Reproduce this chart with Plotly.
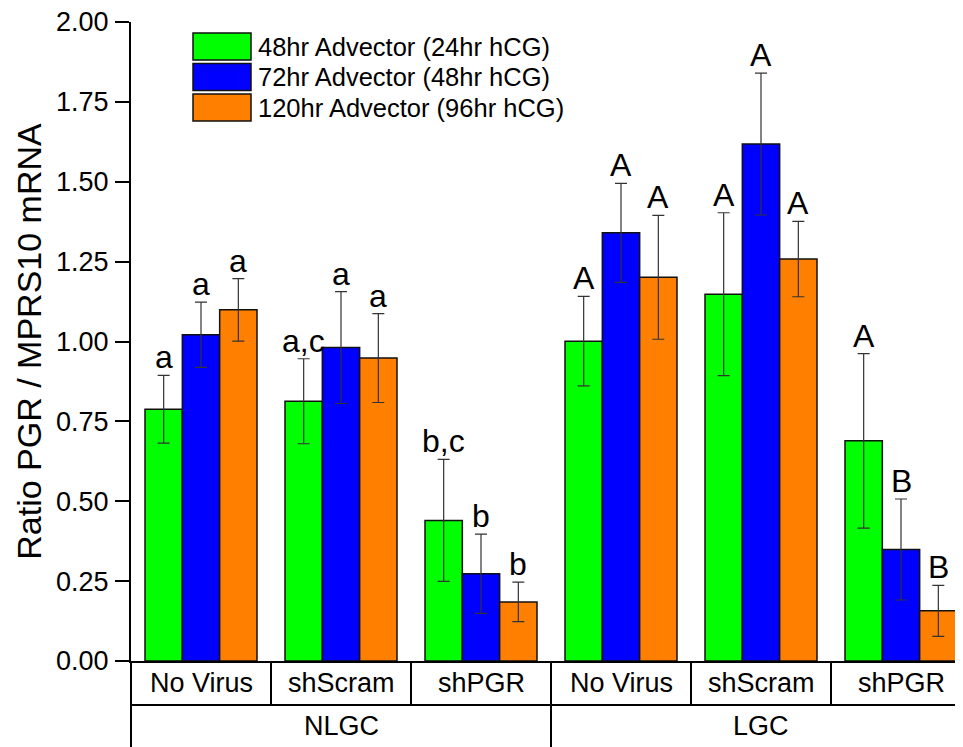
import plotly.graph_objects as go

# ---- data ----
groups = ["NLGC", "LGC"]
subgroups = ["No Virus", "shScram", "shPGR"]
series_names = ["48hr Advector (24hr hCG)", "72hr Advector (48hr hCG)", "120hr Advector (96hr hCG)"]
series_colors = ["#00FF00", "#0000FF", "#FF8000"]

green_vals = [0.788, 0.813, 0.440, 1.001, 1.148, 0.689]
blue_vals = [1.021, 0.981, 0.273, 1.340, 1.618, 0.349]
orange_vals = [1.099, 0.948, 0.185, 1.201, 1.258, 0.157]

green_err = [0.106, 0.133, 0.191, 0.140, 0.255, 0.273]
blue_err = [0.102, 0.175, 0.124, 0.155, 0.222, 0.158]
orange_err = [0.098, 0.139, 0.062, 0.194, 0.118, 0.080]

green_letters = ["a", "a,c", "b,c", "A", "A", "A"]
blue_letters = ["a", "a", "b", "A", "A", "B"]
orange_letters = ["a", "a", "b", "A", "A", "B"]

y_ticks = [0.00, 0.25, 0.50, 0.75, 1.00, 1.25, 1.50, 1.75, 2.00]
y_title = "Ratio PGR / MPRS10 mRNA"

# ---- build ----
FONT = "Liberation Sans, Arial, sans-serif"
OFF = 8  # default page body margin
W, H = 963 - OFF, 747 - OFF
ML, MR, MT, MB = 131 - OFF, 0, 22 - OFF, 86
plot_w = W - ML - MR
plot_h = H - MT - MB
group_px = 140.0

cats = [f"{g} · {s}" for g in groups for s in subgroups]
values = [green_vals, blue_vals, orange_vals]
errors = [green_err, blue_err, orange_err]
letters = [green_letters, blue_letters, orange_letters]

fig = go.Figure()
for k in range(3):
    fig.add_trace(go.Bar(
        x=cats, y=values[k], name=series_names[k],
        marker=dict(color=series_colors[k], line=dict(color="#111111", width=1.5)),
        error_y=dict(type="data", array=errors[k], visible=True,
                     color="#333333", thickness=1.2, width=6),
        showlegend=False,
    ))

annotations = []
bargap = 0.2
bw = (1 - bargap) / 3
for k in range(3):
    for i in range(len(cats)):
        annotations.append(dict(
            x=i + (k - 1) * bw, y=values[k][i] + errors[k][i], xref="x", yref="y",
            text=letters[k][i], showarrow=False, yanchor="bottom", xanchor="center",
            yshift=-2, font=dict(family=FONT, size=32, color="black"),
        ))

def py2paper(py):
    # py in page pixels
    return (H - MB - (py - OFF)) / plot_h

def px2paper(px):
    return (px - OFF - ML) / plot_w

shapes = []
row1_bottom = py2paper(705)
fig_bottom = py2paper(760)
shapes.append(dict(type="line", xref="paper", yref="paper", x0=0, x1=1.02,
                   y0=row1_bottom, y1=row1_bottom, line=dict(color="black", width=2)))
shapes.append(dict(type="line", xref="paper", yref="paper", x0=0, x1=0,
                   y0=0, y1=fig_bottom, line=dict(color="black", width=2)))
n = len(cats)
for i in range(n - 1):
    xb = i + 0.5
    y1 = fig_bottom if (i + 1) % len(subgroups) == 0 else row1_bottom
    shapes.append(dict(type="line", xref="x", yref="paper", x0=xb, x1=xb,
                       y0=0, y1=y1, line=dict(color="black", width=2)))

for i in range(n):
    annotations.append(dict(
        x=i, y=py2paper(683), xref="x", yref="paper", text=subgroups[i % len(subgroups)],
        showarrow=False, xanchor="center", yanchor="middle",
        font=dict(family=FONT, size=27, color="black"),
    ))
for gi, g in enumerate(groups):
    annotations.append(dict(
        x=gi * len(subgroups) + (len(subgroups) - 1) / 2, y=py2paper(726), xref="x", yref="paper",
        text=g, showarrow=False, xanchor="center", yanchor="middle",
        font=dict(family=FONT, size=27, color="black"),
    ))

# manual legend
for k in range(3):
    top = 33 + 30.5 * k
    bot = top + 27
    shapes.append(dict(type="rect", xref="paper", yref="paper",
                       x0=px2paper(193), x1=px2paper(251), y0=py2paper(bot), y1=py2paper(top),
                       fillcolor=series_colors[k], line=dict(color="#111111", width=1.5)))
    annotations.append(dict(
        x=px2paper(256), y=py2paper((top + bot) / 2), xref="paper", yref="paper",
        text=series_names[k], showarrow=False, xanchor="left", yanchor="middle",
        font=dict(family=FONT, size=25.5, color="black"),
    ))

x_range_max = -0.5 + plot_w / group_px

fig.update_layout(
    width=W, height=H,
    margin=dict(l=ML, r=MR, t=MT, b=MB, pad=0),
    plot_bgcolor="white", paper_bgcolor="white",
    barmode="group", bargap=bargap, bargroupgap=0,
    font=dict(family=FONT, color="black"),
    showlegend=False,
    shapes=shapes, annotations=annotations,
    xaxis=dict(range=[-0.5, x_range_max], showticklabels=False, ticks="",
               showline=True, linecolor="black", linewidth=2, showgrid=False, zeroline=False),
    yaxis=dict(range=[0, 2.0], tickvals=y_ticks, ticktext=[f"{v:.2f}" for v in y_ticks],
               ticks="outside", ticklen=14, tickwidth=2, tickcolor="black",
               showline=True, linecolor="black", linewidth=2, showgrid=False, zeroline=False,
               tickfont=dict(family=FONT, size=27, color="black"), ticklabelstandoff=1,
               ticklabeloverflow="allow",
               title=dict(text=y_title, font=dict(family=FONT, size=34, color="black"), standoff=4)),
)

fig.write_html("out.html")
